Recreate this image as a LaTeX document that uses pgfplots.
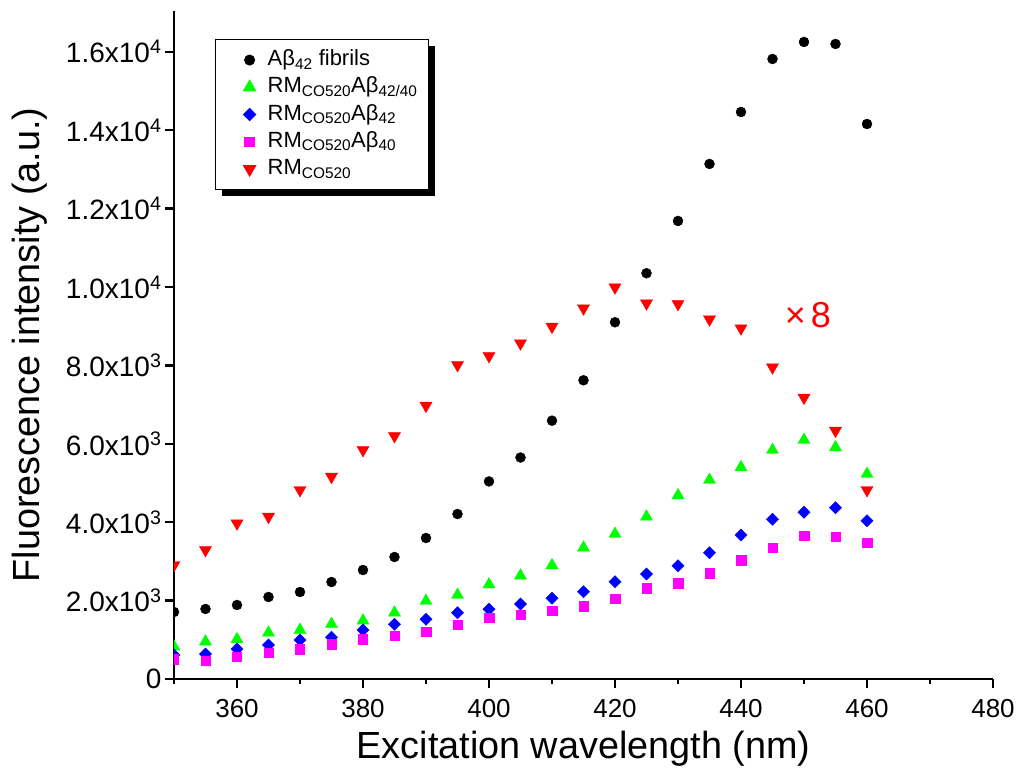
\documentclass[border=0pt]{standalone}
\usepackage{pgfplots}
\pgfplotsset{compat=1.18}
\usepackage{fontspec}
\setmainfont{Liberation Sans}
\usetikzlibrary{shadows}

\definecolor{cgreen}{RGB}{0,255,0}
\definecolor{cblue}{RGB}{0,0,255}
\definecolor{cmag}{RGB}{255,0,255}
\definecolor{cred}{RGB}{255,0,0}

\newcommand{\RM}{RM\textsubscript{CO520}}
% legend text: fixed gap after the mark, fixed cell width
\newcommand{\legtext}[1]{\hspace{12pt}\makebox[133pt][l]{#1}}

% scatter series: marks only, a single mark per legend row
\pgfplotsset{
  dots/.style={only marks,
    legend image code/.code={\draw[##1] plot coordinates {(0pt,0pt)};}},
}

\begin{document}
\begin{tikzpicture}
\useasboundingbox (-174pt,-93pt) rectangle (849pt,679pt);
\begin{axis}[
  at={(0,0)}, anchor=south west,
  scale only axis, width=819pt, height=668pt,
  xmin=350, xmax=480, ymin=0, ymax=17040,
  axis x line*=bottom, axis y line*=left,
  axis line style={line width=2.5pt,-},
  clip marker paths=true,
  tick align=outside,
  every tick/.style={black,line width=2.5pt},
  major tick length=9pt, minor tick length=5pt,
  xtick={360,380,400,420,440,460,480},
  xticklabels={360,380,400,420,440,460,480},
  minor xtick={350,370,390,410,430,450,470},
  ytick={0,2000,4000,6000,8000,10000,12000,14000,16000},
  yticklabels={0,2.0x10\textsuperscript{3},4.0x10\textsuperscript{3},6.0x10\textsuperscript{3},8.0x10\textsuperscript{3},1.0x10\textsuperscript{4},1.2x10\textsuperscript{4},1.4x10\textsuperscript{4},1.6x10\textsuperscript{4}},
  xticklabel style={font=\fontsize{26}{31}\selectfont, yshift=-8pt},
  yticklabel style={font=\fontsize{28}{33}\selectfont},
  xlabel={Excitation wavelength (nm)},
  ylabel={Fluorescence intensity (a.u.)},
  label style={font=\fontsize{37.8}{45}\selectfont},
  xlabel style={at={(rel axis cs:0.5,-0.1048)}, anchor=center},
  ylabel style={at={(rel axis cs:-0.1758,0.5)}, anchor=center},
  legend style={at={(rel axis cs:0.0501,0.958)}, anchor=north west,
    draw=black, line width=1pt,
    drop shadow={shadow xshift=6pt,shadow yshift=-6pt,fill=black,opacity=1},
    inner xsep=28pt, inner ysep=9pt,
    row sep=4.25pt, column sep=0pt,
    nodes={inner sep=0pt, text height=17pt, text depth=6pt,
           font=\fontsize{22}{27}\selectfont}},
  legend cell align=left,
  every axis plot/.append style={dots},
]
% fibrils
\addplot[mark=*, mark size=5pt, black] coordinates {
(350,1709)(355,1786)(360,1888)(365,2092)(370,2219)(375,2474)(380,2780)(385,3112)
(390,3597)(395,4209)(400,5040)(405,5650)(410,6590)(415,7620)(420,9100)(425,10350)
(430,11684)(435,13138)(440,14464)(445,15816)(450,16250)(455,16199)(460,14158)};
\addlegendentry{\legtext{Aβ\textsubscript{42} fibrils}}
% RM + Abeta42/40
\addplot[mark=triangle*, mark size=7pt, cgreen] coordinates {
(350,824)(355,952)(360,1013)(365,1181)(370,1250)(375,1403)(380,1487)(385,1691)
(390,1990)(395,2143)(400,2410)(405,2636)(410,2900)(415,3349)(420,3699)(425,4140)
(430,4685)(435,5077)(440,5400)(445,5842)(450,6097)(455,5910)(460,5230)};
\addlegendentry{\legtext{\RM Aβ\textsubscript{42/40}}}
% RM + Abeta42
\addplot[mark=square*, mark size=4.3pt, mark options={rotate=45}, cblue] coordinates {
(350,612)(355,638)(360,765)(365,867)(370,995)(375,1063)(380,1250)(385,1395)
(390,1523)(395,1691)(400,1778)(405,1913)(410,2058)(415,2228)(420,2483)(425,2679)
(430,2890)(435,3222)(440,3673)(445,4074)(450,4252)(455,4370)(460,4038)};
\addlegendentry{\legtext{\RM Aβ\textsubscript{42}}}
% RM + Abeta40
\addplot[mark=square*, mark size=4.7pt, cmag] coordinates {
(350,502)(355,467)(360,569)(365,671)(370,765)(375,885)(380,1020)(385,1105)
(390,1207)(395,1378)(400,1560)(405,1633)(410,1735)(415,1862)(420,2049)(425,2313)
(430,2440)(435,2696)(440,3030)(445,3349)(450,3656)(455,3630)(460,3477)};
\addlegendentry{\legtext{\RM Aβ\textsubscript{40}}}
% RM alone (scaled x8)
\addplot[mark=triangle*, mark size=7pt, mark options={rotate=180}, cred] coordinates {
(350,2908)(355,3291)(360,3971)(365,4141)(370,4821)(375,5161)(380,5842)(385,6199)
(390,6973)(395,8010)(400,8240)(405,8563)(410,8988)(415,9456)(420,9991)(425,9583)
(430,9566)(435,9175)(440,8946)(445,7951)(450,7177)(455,6334)(460,4821)};
\addlegendentry{\legtext{\RM}}
\node[text=cred, font=\fontsize{36}{42}\selectfont, inner sep=0pt] at (axis cs:450.6,9286) {×\hspace{5pt}8};
\end{axis}
\end{tikzpicture}
\end{document}
